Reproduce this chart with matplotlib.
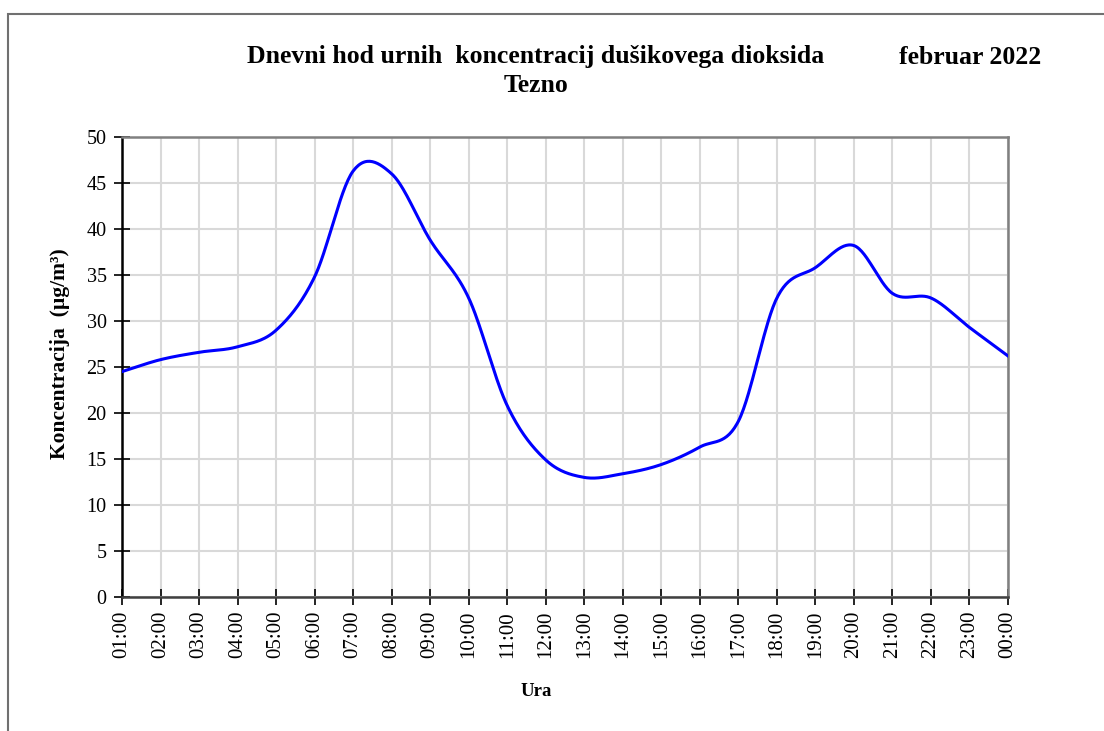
import numpy as np
import matplotlib
matplotlib.use("Agg")
import matplotlib.pyplot as plt
from matplotlib.patches import Rectangle

plt.rcParams['font.family'] = ['Liberation Serif', 'DejaVu Serif']

# ure in koncentracije NO2 (µg/m3)
ure = ['01:00', '02:00', '03:00', '04:00', '05:00', '06:00', '07:00', '08:00',
       '09:00', '10:00', '11:00', '12:00', '13:00', '14:00', '15:00', '16:00',
       '17:00', '18:00', '19:00', '20:00', '21:00', '22:00', '23:00', '00:00']
koncentracija = [24.5, 25.8, 26.6, 27.2, 29.0, 34.8, 46.3, 46.0,
                 38.8, 32.5, 20.8, 14.9, 13.0, 13.4, 14.4, 16.3,
                 19.1, 32.5, 35.8, 38.2, 33.0, 32.5, 29.3, 26.2]


# zglajena crta (Catmull-Rom, podobno kot v Excelu)
def zgladi(x, y, n=30):
    x = np.asarray(x, float)
    y = np.asarray(y, float)
    px = np.concatenate([[2 * x[0] - x[1]], x, [2 * x[-1] - x[-2]]])
    py = np.concatenate([[2 * y[0] - y[1]], y, [2 * y[-1] - y[-2]]])
    xs, ys = [], []
    t = np.linspace(0, 1, n, endpoint=False)
    for i in range(1, len(px) - 2):
        for p, out in ((px, xs), (py, ys)):
            p0, p1, p2, p3 = p[i - 1], p[i], p[i + 1], p[i + 2]
            out.extend(0.5 * ((2 * p1) + (-p0 + p2) * t
                              + (2 * p0 - 5 * p1 + 4 * p2 - p3) * t ** 2
                              + (-p0 + 3 * p1 - 3 * p2 + p3) * t ** 3))
    xs.append(x[-1])
    ys.append(y[-1])
    return np.array(xs), np.array(ys)


x = np.arange(len(ure))
xs, ys = zgladi(x, koncentracija)

fig = plt.figure(figsize=(11.04, 7.31), dpi=100)
fig.patches.append(Rectangle((8 / 1104, -0.5), 2, 1.5 - 14 / 731, transform=fig.transFigure,
                             fill=False, edgecolor='#707070', linewidth=1.5))

ax = fig.add_axes([122 / 1104, 1 - 597 / 731, 886 / 1104, 460 / 731])
ax.plot(xs, ys, color='#0000ff', linewidth=2.2, zorder=3)

ax.set_xlim(0, len(ure) - 1)
ax.set_ylim(0, 50)
ax.set_xticks(x)
ax.set_xticklabels(ure, rotation=90, fontsize=15)
ax.set_yticks(np.arange(0, 51, 5))
ax.tick_params(axis='y', labelsize=14.5, direction='inout', length=12, width=1.2, pad=5)
ax.tick_params(axis='x', direction='inout', length=12, width=1.2, pad=4)
ax.grid(True, color='#d9d9d9', linewidth=1.5)
ax.set_axisbelow(True)

ax.spines['left'].set_color('black')
ax.spines['left'].set_linewidth(1.8)
ax.spines['bottom'].set_color('#404040')
ax.spines['bottom'].set_linewidth(1.8)
for s in ('top', 'right'):
    ax.spines[s].set_color('#808080')
    ax.spines[s].set_linewidth(1.8)

ax.set_ylabel('Koncentracija  (µg/m³)', fontsize=15.5, fontweight='bold')
ax.yaxis.set_label_coords(-0.0587, 0.528)
ax.set_xlabel('Ura', fontsize=13.5, fontweight='bold')
ax.xaxis.set_label_coords(0.467, -0.187)

fig.text(536 / 1104, 1 - 57 / 731, 'Dnevni hod urnih  koncentracij dušikovega dioksida',
         ha='center', va='center', fontsize=18.5, fontweight='bold')
fig.text(536 / 1104, 1 - 86 / 731, 'Tezno', ha='center', va='center', fontsize=18.5, fontweight='bold')
fig.text(970 / 1104, 1 - 57 / 731, 'februar 2022', ha='center', va='center', fontsize=18.5, fontweight='bold')

fig.savefig('out.png', dpi=100)
